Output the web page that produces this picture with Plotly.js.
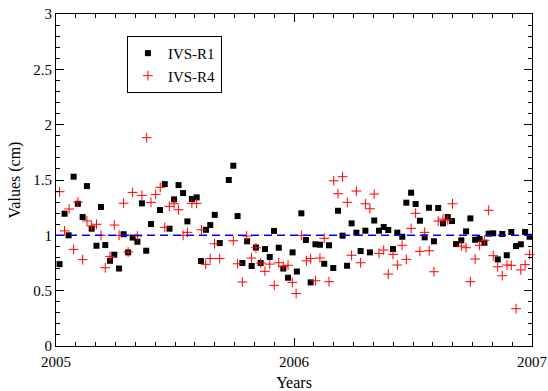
<!DOCTYPE html>
<html>
<head>
<meta charset="utf-8">
<script src="https://cdn.plot.ly/plotly-3.0.1.min.js"></script>
<style>html,body{margin:0;padding:0;background:#fff;}#chart{width:548px;height:391px;}</style>
</head>
<body>
<div id="chart"></div>
<script>
const r1Years = [2005.015,2005.036,2005.053,2005.074,2005.092,2005.112,2005.130,2005.150,2005.170,2005.189,2005.207,2005.227,2005.245,2005.265,2005.284,2005.303,2005.322,2005.342,2005.361,2005.379,2005.399,2005.437,2005.457,2005.477,2005.496,2005.515,2005.534,2005.552,2005.571,2005.591,2005.609,2005.630,2005.648,2005.667,2005.688,2005.726,2005.745,2005.763,2005.783,2005.803,2005.822,2005.840,2005.860,2005.878,2005.898,2005.916,2005.936,2005.955,2005.975,2005.994,2006.012,2006.031,2006.050,2006.070,2006.090,2006.109,2006.127,2006.147,2006.165,2006.185,2006.204,2006.223,2006.242,2006.262,2006.280,2006.300,2006.319,2006.337,2006.357,2006.377,2006.396,2006.416,2006.434,2006.455,2006.472,2006.492,2006.511,2006.529,2006.549,2006.567,2006.588,2006.606,2006.626,2006.646,2006.664,2006.681,2006.703,2006.723,2006.741,2006.761,2006.780,2006.800,2006.818,2006.837,2006.856,2006.875,2006.894,2006.913,2006.933,2006.953,2006.971,2006.990];
const r1Values = [0.74,1.195,1.00,1.53,1.285,1.165,1.445,1.06,0.906,1.256,0.912,0.77,0.825,0.70,1.01,0.846,0.98,0.942,1.289,0.861,1.102,1.229,1.463,1.06,1.325,1.454,1.382,1.126,1.328,1.343,0.768,1.05,1.093,1.185,0.93,1.50,1.629,1.174,0.75,0.946,0.723,0.89,0.75,0.876,0.804,1.04,0.888,0.70,0.617,0.846,0.673,1.199,0.958,0.575,0.919,0.915,0.743,0.91,0.705,1.222,0.997,0.725,1.108,1.024,0.858,1.042,0.846,1.134,1.042,1.075,1.048,0.876,1.024,0.987,1.295,1.385,1.283,1.132,0.982,1.249,0.946,1.247,1.108,1.165,1.129,0.921,0.955,1.036,1.153,0.96,0.967,0.933,1.015,1.018,0.783,1.012,0.82,1.03,0.903,0.919,1.03,0.987];
const r4Years = [2005.015,2005.036,2005.055,2005.074,2005.092,2005.112,2005.130,2005.150,2005.170,2005.189,2005.207,2005.227,2005.245,2005.265,2005.284,2005.303,2005.322,2005.342,2005.361,2005.381,2005.399,2005.419,2005.438,2005.457,2005.476,2005.496,2005.515,2005.534,2005.552,2005.571,2005.591,2005.611,2005.629,2005.648,2005.666,2005.688,2005.745,2005.763,2005.783,2005.801,2005.821,2005.840,2005.860,2005.878,2005.898,2005.917,2005.936,2005.955,2005.975,2005.993,2006.009,2006.031,2006.052,2006.070,2006.090,2006.109,2006.127,2006.147,2006.167,2006.185,2006.204,2006.224,2006.242,2006.262,2006.280,2006.300,2006.319,2006.337,2006.357,2006.377,2006.396,2006.416,2006.434,2006.454,2006.472,2006.492,2006.511,2006.529,2006.549,2006.568,2006.588,2006.606,2006.626,2006.646,2006.666,2006.703,2006.723,2006.741,2006.761,2006.780,2006.800,2006.818,2006.837,2006.856,2006.875,2006.895,2006.913,2006.933,2006.953,2006.971,2006.990];
const r4Values = [1.394,1.04,1.238,0.873,1.30,0.78,1.13,1.084,1.10,1.00,0.707,0.81,1.093,1.00,1.29,0.849,1.388,0.994,1.361,1.882,1.298,1.37,1.434,1.072,1.262,1.285,1.231,1.00,1.027,1.289,1.289,1.05,0.738,0.79,0.924,0.79,0.951,0.743,0.578,0.994,0.795,0.888,0.75,0.675,0.74,0.548,0.752,0.72,0.73,0.575,0.474,1.00,0.77,0.79,0.59,0.795,0.973,0.581,1.493,1.376,1.53,1.298,0.82,1.40,0.752,1.285,1.24,1.373,0.837,0.867,0.65,0.828,0.732,0.91,0.783,1.063,1.199,0.855,1.027,0.861,0.671,1.129,1.147,1.138,1.285,0.903,0.888,0.581,0.786,0.91,0.955,1.226,0.816,0.716,0.635,0.732,0.729,0.337,0.687,0.735,0.828];
const refLevel = 1;
const xTickVals = [2005, 2006, 2007];
const xTickText = ["2005", "2006", "2007"];
const yTickVals = [0, 0.5, 1, 1.5, 2, 2.5, 3];
const yTickText = ["0", "0.5", "1", "1.5", "2", "2.5", "3"];

const font = "'Liberation Serif', 'Times New Roman', Times, serif";
const traces = [
  {x: r1Years, y: r1Values, name: "IVS-R1", type: "scatter", mode: "markers",
   marker: {symbol: "square", size: 6, color: "#000"}, cliponaxis: false},
  {x: r4Years, y: r4Values, name: "IVS-R4", type: "scatter", mode: "markers",
   marker: {symbol: "cross-thin-open", size: 7, color: "#ff0000", line: {color: "#ff0000", width: 1}}, cliponaxis: false}
];
const axisCommon = {
  showgrid: false, zeroline: false, showline: true, linecolor: "#000", linewidth: 1,
  mirror: "ticks", ticks: "inside", ticklen: 8, tickwidth: 1, tickcolor: "#000",
  tickfont: {family: font, size: 15, color: "#000"}
};
const layout = {
  width: 548, height: 391,
  margin: {l: 56, r: 16, t: 14, b: 45},
  paper_bgcolor: "#fff", plot_bgcolor: "#fff",
  font: {family: font, color: "#000"},
  showlegend: true,
  legend: {x: 0.149, y: 0.934, xanchor: "left", yanchor: "top",
    bgcolor: "#fff", bordercolor: "#000", borderwidth: 1,
    font: {family: font, size: 15, color: "#000"}, tracegroupgap: 0, itemwidth: 30},
  xaxis: Object.assign({}, axisCommon, {
    range: [2005, 2007], tickmode: "array", tickvals: xTickVals, ticktext: xTickText,
    ticklabelstandoff: 2,
    minor: {dtick: 1/12, tick0: 2005, ticks: "inside", ticklen: 4, tickcolor: "#000"},
    title: {text: "Years", font: {family: font, size: 16, color: "#000"}, standoff: 12}
  }),
  yaxis: Object.assign({}, axisCommon, {
    range: [0, 3], tickmode: "array", tickvals: yTickVals, ticktext: yTickText,
    ticklabelstandoff: 0,
    minor: {dtick: 0.1, tick0: 0, ticks: "inside", ticklen: 4, tickcolor: "#000"},
    title: {text: "Values (cm)", font: {family: font, size: 16, color: "#000"}, standoff: 8}
  }),
  shapes: [{type: "line", xref: "paper", yref: "y", x0: 0, x1: 1, y0: refLevel, y1: refLevel,
    line: {color: "#0000ff", width: 1.5, dash: "8px,5px"}}]
};
Plotly.newPlot("chart", traces, layout, {displayModeBar: false, staticPlot: true});
</script>
</body>
</html>
